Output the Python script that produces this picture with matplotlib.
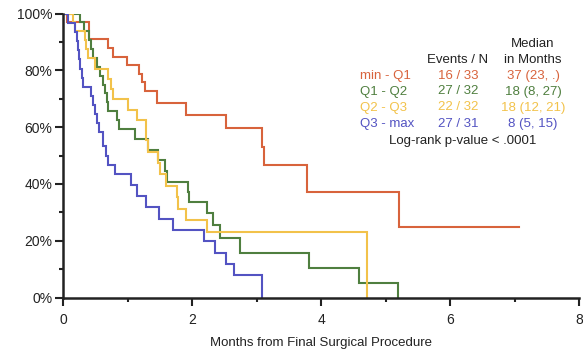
import matplotlib.pyplot as plt
from matplotlib.ticker import MultipleLocator, FuncFormatter

plt.rcParams['font.family'] = ['Liberation Sans', 'DejaVu Sans']

# Kaplan-Meier step curves: time (months) and survival (%) after each drop
red_t = [0, 0.06, 0.40, 0.69, 0.78, 0.99, 1.18, 1.23, 1.27, 1.46, 1.90, 2.52, 3.08, 3.11, 3.79, 5.21, 7.07]
red_s = [100, 97.0, 90.9, 87.9, 84.8, 81.8, 78.8, 75.8, 72.7, 68.5, 64.4, 59.7, 53.0, 46.6, 37.3, 24.8, 24.8]

green_t = [0, 0.27, 0.33, 0.41, 0.44, 0.47, 0.52, 0.57, 0.62, 0.65, 0.68, 0.70, 0.83, 0.87, 1.11, 1.32,
           1.48, 1.58, 1.62, 1.94, 1.96, 2.23, 2.33, 2.43, 2.75, 3.82, 4.59, 5.20]
green_s = [100, 96.9, 93.8, 90.6, 87.5, 84.4, 81.3, 78.1, 75.0, 71.9, 68.8, 65.6, 62.5, 59.4, 55.8, 51.9,
           48.3, 44.5, 40.7, 37.2, 33.6, 29.6, 25.5, 20.8, 15.6, 10.4, 5.2, 0]

yellow_t = [0, 0.16, 0.19, 0.34, 0.36, 0.38, 0.50, 0.70, 0.75, 0.78, 1.00, 1.14, 1.28, 1.32, 1.48, 1.51,
            1.60, 1.76, 1.78, 1.90, 2.23, 4.71]
yellow_s = [100, 96.9, 93.8, 90.6, 87.5, 84.4, 80.5, 77.0, 73.5, 70.0, 66.1, 62.4, 55.5, 51.3, 47.2, 43.5,
            39.2, 35.3, 31.2, 27.3, 22.9, 0]

blue_t = [0, 0.07, 0.19, 0.21, 0.23, 0.25, 0.27, 0.29, 0.31, 0.43, 0.47, 0.50, 0.52, 0.56, 0.62, 0.67,
          0.70, 0.80, 1.05, 1.15, 1.29, 1.49, 1.70, 2.19, 2.36, 2.53, 2.65, 3.09]
blue_s = [100, 96.8, 93.5, 90.3, 87.1, 83.9, 80.6, 77.4, 74.2, 71.0, 67.7, 64.5, 61.3, 58.1, 53.5, 50.0,
          46.6, 43.4, 39.6, 35.6, 31.7, 27.6, 23.7, 19.8, 15.8, 11.9, 7.9, 0]

group_labels = ['min - Q1', 'Q1 - Q2', 'Q2 - Q3', 'Q3 - max']
events_n = ['16 / 33', '27 / 32', '22 / 32', '27 / 31']
medians = ['37 (23, .)', '18 (8, 27)', '18 (12, 21)', '8 (5, 15)']
colors = ['#D8633C', '#4F7F3F', '#F2C24A', '#5353C2']

fig = plt.figure(figsize=(5.83, 3.52), dpi=100)
ax = fig.add_axes([63 / 583, 1 - 297.5 / 352, 516 / 583, 284 / 352])

curves = [(red_t, red_s), (green_t, green_s), (yellow_t, yellow_s), (blue_t, blue_s)]
for (t, s), c in zip(curves, colors):
    ax.step(t, s, where='post', color=c, lw=1.5, solid_joinstyle='miter')

ax.set_xlim(0, 8)
ax.set_ylim(0, 100)
for side in ['top', 'right']:
    ax.spines[side].set_visible(False)
for side in ['left', 'bottom']:
    ax.spines[side].set_color('#222222')
    ax.spines[side].set_linewidth(1.8)

ax.xaxis.set_major_locator(MultipleLocator(2))
ax.xaxis.set_minor_locator(MultipleLocator(1))
ax.yaxis.set_major_locator(MultipleLocator(20))
ax.yaxis.set_minor_locator(MultipleLocator(10))
ax.yaxis.set_major_formatter(FuncFormatter(lambda v, p: f'{int(v)}%'))
ax.tick_params(which='major', length=5.5, width=1.5, color='#222222', labelsize=10, labelcolor='#222222')
ax.tick_params(which='minor', length=3, width=1.5, color='#222222')
ax.tick_params(axis='y', pad=2)
ax.tick_params(axis='x', pad=6)
ax.set_xlabel('Months from Final Surgical Procedure', fontsize=9.5, color='#222222', labelpad=7)

def fx(px):
    return px / 583

def fy(py):
    return 1 - py / 352

fs = 9.5
fig.text(fx(533), fy(44), 'Median', ha='center', va='center', fontsize=fs, color='#222222')
fig.text(fx(533), fy(60), 'in Months', ha='center', va='center', fontsize=fs, color='#222222')
fig.text(fx(458), fy(60), 'Events / N', ha='center', va='center', fontsize=fs, color='#222222')
row_y = [76, 91.5, 107.5, 124]
for lab, ev, med, c, y in zip(group_labels, events_n, medians, colors, row_y):
    fig.text(fx(360), fy(y), lab, ha='left', va='center', fontsize=fs, color=c)
    fig.text(fx(458), fy(y), ev, ha='center', va='center', fontsize=fs, color=c)
    fig.text(fx(533), fy(y), med, ha='center', va='center', fontsize=fs, color=c)
fig.text(fx(463), fy(141), 'Log-rank p-value < .0001', ha='center', va='center', fontsize=fs, color='#222222')

fig.savefig('out.png', dpi=100)
